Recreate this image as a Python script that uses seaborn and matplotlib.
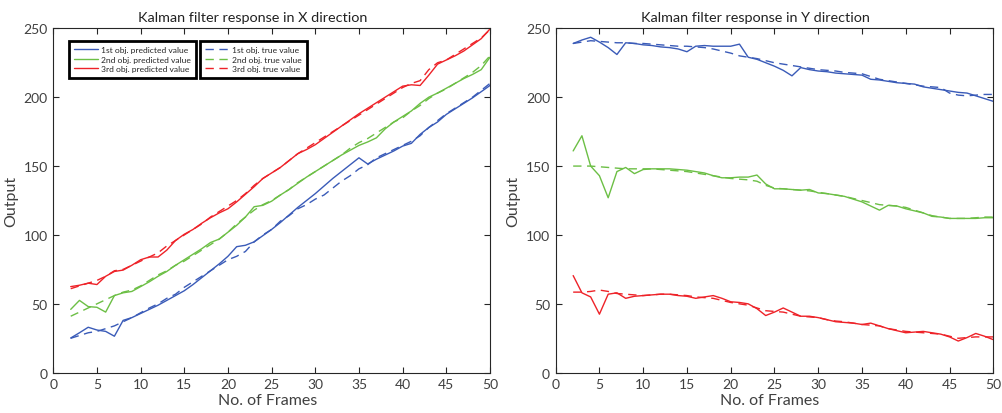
import numpy as np
import pandas as pd
import matplotlib
matplotlib.use("Agg")
import matplotlib.pyplot as plt
import seaborn as sns
from matplotlib.lines import Line2D

frames = list(range(2, 51))

x_pred_1 = [25.2, 29, 33, 31, 30, 26.5, 38, 40, 43, 46, 49, 52.5, 56, 59.5, 64, 69, 74, 79, 84.5, 91.5, 92.5, 95, 99.5, 104, 109, 114.5, 120, 125, 130, 135.5, 141, 146, 151, 156, 151.5, 155, 158, 161, 164.5, 166.5, 173, 178, 182, 187.5, 191.5, 195.5, 199.5, 204, 208.5]
x_true_1 = [25, 27, 29, 30, 32, 34, 37, 40, 43.5, 47, 50, 54, 57, 62, 66, 70, 74, 78, 82, 84.5, 88, 95, 100, 104, 110, 114, 119, 122, 126, 129, 134, 139, 143, 148, 151, 156, 159, 162, 165, 168, 172, 178, 183, 188, 192, 196, 200, 205, 210]
x_pred_2 = [46, 52.5, 48, 47.5, 44, 56, 58, 59, 62.5, 66, 70, 73.5, 78, 82, 86, 90, 94.5, 97, 102, 107, 113, 120.5, 121.5, 124.5, 129, 133, 137.5, 142, 146, 150, 154, 158, 161.5, 165, 167.5, 170.5, 177, 182, 186, 190, 195.5, 200, 203, 206.5, 210, 213.5, 216.5, 220, 229]
x_true_2 = [41, 44, 47, 50, 53, 56, 58.5, 60, 63, 67, 71, 74, 78, 81, 85, 89, 93, 97, 102, 108, 113, 118, 122, 125, 129, 133, 138, 142, 146, 150, 154, 158, 163, 167, 170, 174, 178, 182, 185, 190, 194, 199, 203, 206, 210, 214, 218, 223, 230]
x_pred_3 = [62.5, 63.5, 65, 64, 70, 73.5, 74.5, 78, 82, 84, 84, 89, 96, 100.5, 104, 108.5, 112.5, 116, 119, 124, 129.5, 135, 141, 145, 149, 154, 159, 162, 165.5, 170, 174.5, 179, 183.5, 188, 192, 196, 200, 204, 208, 209, 208.5, 216, 224, 227, 230, 233.5, 238, 242.5, 249.5]
x_true_3 = [61, 63, 65, 67, 70, 74, 75, 78, 81, 84, 87, 92, 96, 100, 104, 108, 113, 117, 121, 125, 130, 136, 141, 145, 149, 154, 159, 163, 167, 171, 175, 179, 183, 187, 191, 195, 199, 203, 207, 210, 212, 220, 225, 227, 231, 235, 239, 243, 249]

y_pred_1 = [239, 241.5, 243.5, 240, 236, 231, 239.5, 239, 238, 237.5, 236.5, 236, 235, 233, 237, 237.5, 237, 237, 237, 238.5, 229, 227.5, 225, 222.5, 219.5, 215.5, 221.5, 220, 219, 218.5, 217.5, 217, 216.5, 216, 213, 212.5, 211.5, 210.5, 210, 209.5, 207.5, 206.5, 205.5, 204.5, 203.5, 203, 201, 199, 197]
y_true_1 = [239, 240, 241, 240.5, 240, 239.5, 239.5, 239, 239, 238.5, 238, 237.5, 237, 237, 236.5, 236, 235, 233.5, 232, 230, 229, 228, 226.5, 225, 224, 223, 222, 221, 220, 219.5, 219, 218, 217.5, 217, 215, 213, 212, 211, 210, 209, 208, 207.5, 207, 203, 201.5, 201, 201.5, 202, 202]
y_pred_2 = [161, 172, 150, 143, 127, 146, 149, 144.5, 147.5, 148, 148, 148, 147.5, 147, 146, 145, 143, 141.5, 141.5, 142, 142, 143.5, 137, 133.5, 133.5, 133, 132.5, 133, 130.5, 130, 129, 128, 126, 124, 121, 118, 121.5, 121, 119, 117.5, 116, 113.5, 113, 112, 112, 112, 112, 112.5, 112.5]
y_true_2 = [150, 150, 150, 149.5, 149, 148.5, 148, 148, 148, 148, 147.5, 147, 146.5, 146, 145, 144, 143, 142, 141, 140.5, 140, 139, 136, 134, 133.5, 133, 132.5, 132, 131, 130, 129, 128, 126.5, 125, 123.5, 122, 121.5, 121, 120, 118, 116, 114, 113, 112, 112, 112, 112.5, 113, 113]
y_pred_3 = [70.5, 58, 55, 42.5, 57, 58, 54, 55.5, 56, 56.5, 57, 57, 56, 55.5, 54, 55, 56, 54, 51.5, 51, 50, 46.5, 41.5, 44, 47, 44, 41, 41, 40, 38.5, 37, 36.5, 36, 35, 36, 34, 32, 30.5, 29, 29.5, 30, 29, 28, 26, 23, 25.5, 28.5, 26.5, 24]
y_true_3 = [58.5, 58.5, 59, 60, 59, 57.5, 57, 56.5, 56, 56.5, 57, 57, 56.5, 56, 55, 54.5, 54, 52.5, 51, 50, 49, 47, 45, 44.5, 44, 42.5, 41, 40.5, 40, 38.5, 37.5, 37, 36, 35, 34.5, 34, 32, 31, 30, 29.5, 29, 28.5, 28, 26.5, 25, 25.5, 26, 26, 26]

pred_labels = ["1st obj. predicted value", "2nd obj. predicted value", "3rd obj. predicted value"]
true_labels = ["1st obj. true value", "2nd obj. true value", "3rd obj. true value"]
titles = ["Kalman filter response in X direction", "Kalman filter response in Y direction"]
x_ticks = list(range(0, 51, 5))
y_ticks = list(range(0, 251, 50))

colors = ["#3a5bb8", "#6cbf45", "#ee2228"]
DASH = (0, (6, 4))

sns.set_style("white")
plt.rcParams["font.family"] = ["Lato", "DejaVu Sans"]

fig = plt.figure(figsize=(10.03, 4.14), dpi=100)
ax1 = fig.add_axes([0.0531, 0.0973, 0.4354, 0.8319])
ax2 = fig.add_axes([0.5540, 0.0973, 0.4363, 0.8319])

panels = [
    (ax1, [x_pred_1, x_pred_2, x_pred_3], [x_true_1, x_true_2, x_true_3]),
    (ax2, [y_pred_1, y_pred_2, y_pred_3], [y_true_1, y_true_2, y_true_3]),
]

for i, (ax, preds, trues) in enumerate(panels):
    for k in range(3):
        sns.lineplot(x=frames, y=trues[k], ax=ax, color=colors[k], lw=1.0,
                     linestyle=DASH, legend=False)
        sns.lineplot(x=frames, y=preds[k], ax=ax, color=colors[k], lw=1.0,
                     legend=False)
    ax.set_xlim(0, 50)
    ax.set_ylim(0, 250)
    ax.set_xticks(x_ticks)
    ax.set_yticks(y_ticks)
    ax.tick_params(direction="in", length=4, width=0.8, top=True, right=True,
                   bottom=True, left=True, labelsize=10, colors="#262626",
                   labelcolor="#404040", pad=4)
    for s in ax.spines.values():
        s.set_color("#262626")
        s.set_linewidth(0.8)
    ax.set_title(titles[i], fontsize=10.4, color="#222222", pad=5, x=0.457)
    ax.set_xlabel("No. of Frames", fontsize=11.5, color="#404040", labelpad=2,
                  x=0.49)
    ax.set_ylabel("Output", fontsize=11.5, color="#404040", labelpad=4)

pred_handles = [Line2D([0], [0], color=c, lw=1.0) for c in colors]
true_handles = [Line2D([0], [0], color=c, lw=1.0, linestyle=DASH) for c in colors]

common = dict(loc="upper left", borderaxespad=0, fontsize=6.1, fancybox=False,
              framealpha=1, edgecolor="black", labelspacing=0.3,
              borderpad=0.62)
leg1 = ax1.legend(pred_handles, pred_labels, bbox_to_anchor=(0.036, 0.963),
                  handlelength=2.8, handletextpad=0.4, **common)
leg1.get_frame().set_linewidth(2.0)
ax1.add_artist(leg1)
leg2 = ax1.legend(true_handles, true_labels, bbox_to_anchor=(0.336, 0.963),
                  handlelength=3.0, handletextpad=0.1, **common)
leg2.get_frame().set_linewidth(2.0)

fig.savefig("out.png", dpi=100)
